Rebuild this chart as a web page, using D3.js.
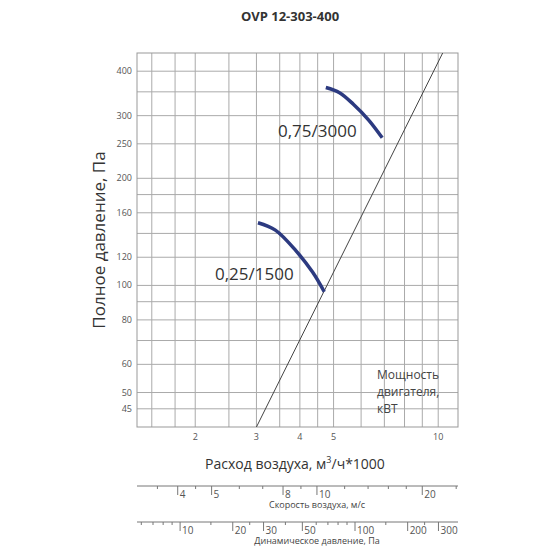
<!DOCTYPE html>
<html><head><meta charset="utf-8">
<script src="https://cdn.jsdelivr.net/npm/d3@7"></script>
<style>body{margin:0;background:#fff;font-family:"Open Sans",sans-serif}</style>
</head><body><div id="chart"></div>
<script>
// grid and tick values
var flowGrid = [1.5, 1.75, 2, 2.5, 3, 3.5, 4, 4.5, 5, 6, 7, 8, 9, 10]
var flowLabels = [2, 3, 4, 5, 10]
var presGrid = [45, 50, 60, 70, 80, 90, 100, 120, 140, 160, 180, 200, 250, 300, 350, 400]
var presLabels = [45, 50, 60, 80, 100, 120, 160, 200, 250, 300, 400]
// fan curves [flow, pressure]
var curveLow = [[3.03, 150], [3.4, 143], [3.9, 125], [4.35, 109], [4.7, 96]]
var curveHigh = [[4.75, 360], [5.2, 348], [5.7, 323], [6.3, 292], [6.9, 260]]
var powerLine = [[3.0, 40], [10.3, 450]]
// secondary scales
var velMajor = [4, 5, 8, 10, 20]
var velMinor = [3.5, 4.5, 6, 7, 9, 12, 14, 16, 18, 25]
var dynMajor = [10, 20, 30, 50, 100, 200, 300]
var dynMinor = [6, 7, 8, 9, 15, 25, 40, 60, 70, 80, 90, 150, 250]

var pLeft = 137, pRight = 458, pTop = 53, pBottom = 427
var x = d3.scaleLog().domain([1.36, 11.4]).range([pLeft, pRight])
var y = d3.scaleLog().domain([40, 450]).range([pBottom, pTop])
var v = d3.scaleLog().domain([3.06, 25.3]).range([pLeft, pRight])
var pd = d3.scaleLog().domain([5.67, 388]).range([pLeft, pRight])

var svg = d3.select("#chart").append("svg").attr("width", 550).attr("height", 550)

svg.append("text").attr("x", 290).attr("y", 21).attr("text-anchor", "middle")
  .attr("font-size", 13).attr("font-weight", "bold").attr("fill", "#333").text("OVP 12-303-400")

// grid
svg.selectAll(".vg").data(flowGrid).enter().append("line")
  .attr("x1", d => x(d)).attr("x2", d => x(d)).attr("y1", pTop).attr("y2", pBottom)
  .attr("stroke", "#aaa").attr("stroke-width", 1)
svg.selectAll(".hg").data(presGrid).enter().append("line")
  .attr("x1", pLeft).attr("x2", pRight).attr("y1", d => y(d)).attr("y2", d => y(d))
  .attr("stroke", "#aaa").attr("stroke-width", 1)
svg.append("rect").attr("x", pLeft).attr("y", pTop).attr("width", pRight - pLeft).attr("height", pBottom - pTop)
  .attr("fill", "none").attr("stroke", "#999")

svg.selectAll(".xl").data(flowLabels).enter().append("text")
  .attr("x", d => x(d)).attr("y", 440).attr("text-anchor", "middle")
  .attr("font-size", 9).attr("fill", "#555").text(d => d)
svg.selectAll(".yl").data(presLabels).enter().append("text")
  .attr("x", 132).attr("y", d => y(d) + 3).attr("text-anchor", "end")
  .attr("font-size", 9).attr("fill", "#555").text(d => d)

var line = d3.line().x(d => x(d[0])).y(d => y(d[1])).curve(d3.curveCatmullRom)
svg.append("path").attr("d", line(powerLine)).attr("fill", "none").attr("stroke", "#444").attr("stroke-width", 1)
;[curveLow, curveHigh].forEach(c => svg.append("path").attr("d", line(c))
  .attr("fill", "none").attr("stroke", "#2c3a80").attr("stroke-width", 3.5))

svg.append("text").attr("x", 278).attr("y", 137).attr("font-size", 17).attr("fill", "#333").text("0,75/3000")
svg.append("text").attr("x", 215).attr("y", 280).attr("font-size", 17).attr("fill", "#333").text("0,25/1500")
;["Мощность", "двигателя,", "кВТ"].forEach((t, i) => svg.append("text")
  .attr("x", 377).attr("y", 379 + i * 17).attr("font-size", 12).attr("fill", "#444").text(t))

svg.append("text").attr("transform", "translate(105,240) rotate(-90)").attr("text-anchor", "middle")
  .attr("font-size", 17).attr("fill", "#333").text("Полное давление, Па")
var xt = svg.append("text").attr("x", 295).attr("y", 469).attr("text-anchor", "middle")
  .attr("font-size", 14).attr("fill", "#333")
xt.append("tspan").text("Расход воздуха, м")
xt.append("tspan").attr("dy", -6).attr("font-size", 9).text("3")
xt.append("tspan").attr("dy", 6).text("/ч*1000")

// secondary axes
function sideAxis(sc, major, minor, ly, title) {
  svg.append("line").attr("x1", pLeft).attr("x2", pRight).attr("y1", ly).attr("y2", ly).attr("stroke", "#777")
  svg.selectAll(null).data(minor).enter().append("line")
    .attr("x1", d => sc(d)).attr("x2", d => sc(d)).attr("y1", ly).attr("y2", ly + 3).attr("stroke", "#777")
  svg.selectAll(null).data(major).enter().append("line")
    .attr("x1", d => sc(d)).attr("x2", d => sc(d)).attr("y1", ly).attr("y2", ly + 9).attr("stroke", "#777")
  svg.selectAll(null).data(major).enter().append("text")
    .attr("x", d => sc(d) + 2).attr("y", ly + 12).attr("font-size", 10).attr("fill", "#555").text(d => d)
  svg.append("text").attr("x", 317).attr("y", ly + 22).attr("text-anchor", "middle")
    .attr("font-size", 9).attr("fill", "#444").text(title)
}
sideAxis(v, velMajor, velMinor, 486, "Скорость воздуха, м/с")
sideAxis(pd, dynMajor, dynMinor, 522, "Динамическое давление, Па")
</script></body></html>
